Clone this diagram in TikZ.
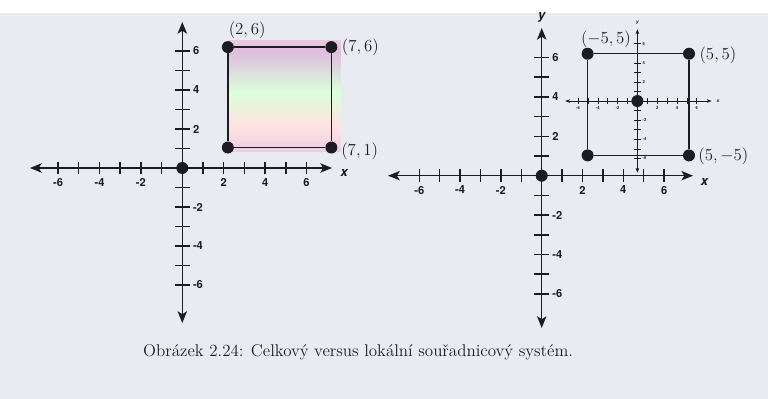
\documentclass[tikz,border=0pt]{standalone}
\usepackage{fontspec}
\usepackage{tikz}
\usetikzlibrary{arrows.meta}
\usetikzlibrary{positioning}
\newfontfamily\hvfont{TeX Gyre Heros}
\definecolor{ink}{RGB}{28,28,34}
\definecolor{paper}{RGB}{232,235,241}
\pgfdeclareverticalshading{duha}{100bp}{%
  color(0bp)=(green!16!white); color(18bp)=(violet!24!white);
  color(36bp)=(pink!45!white); color(52bp)=(green!14!white);
  color(70bp)=(violet!26!white); color(86bp)=(pink!40!white);
  color(100bp)=(green!14!white)}
\newcommand*{\osaX}[7]{%
  \coordinate (#1xl) at (#2,0);
  \coordinate (#1xr) at (#3,0);
  \coordinate (#1yb) at (0,#4);
  \coordinate (#1yt) at (0,#5);
  \draw [#6, <->] (#1xl) -- (#1xr);
  \draw [#6, <->] (#1yb) -- (#1yt);
  \foreach \i in {-6,...,-1,1,2,...,6} {
    \draw [#6] (\i,-0.33) -- (\i,0.33);
    \draw [#6] (-0.36,\i) -- (0.36,\i);
  }
  \foreach \i in {-6,-4,-2,2,4,6} {
    \node [#7, anchor=north] (#1x\i) at (\i,-0.45) {\i};
    \node [#7, anchor=west] (#1y\i) at (0.45,\i) {\i};
  }
}

\begin{document}
\begin{tikzpicture}[x=0.03cm, y=0.03cm,
    axis/.style={line width=1.2pt, draw=ink,
      >={Stealth[length=10pt, width=8pt, inset=2.5pt]}},
    laxis/.style={line width=0.5pt, draw=ink,
      >={Stealth[length=4pt, width=3pt, inset=1pt]}},
    tick/.style={font=\hvfont\bfseries\fontsize{9.5}{10}\selectfont, text=ink, inner sep=1pt},
    ltick/.style={font=\hvfont\bfseries\fontsize{3.5}{4}\selectfont, text=ink, inner sep=0.5pt},
    axlbl/.style={font=\hvfont\bfseries\itshape\fontsize{11}{12}\selectfont, text=ink},
    laxlbl/.style={font=\hvfont\bfseries\itshape\fontsize{4}{5}\selectfont, text=ink},
    dot/.style={circle, fill=ink, inner sep=0pt, minimum size=0.36cm},
    side/.style={line width=1.2pt, draw=ink},
    coord/.style={font=\fontsize{13.5}{16}\selectfont, text=ink, inner sep=1pt},
    popis/.style={font=\fontsize{14.5}{17}\selectfont, text=ink, inner sep=0pt}]

\fill [paper] (0,0) rectangle (768,399);
\fill [white] (0,386) rectangle (768,399);
\useasboundingbox (0,0) rectangle (768,399);

% celkovy system
\begin{scope}[shift={(182.3,231)}, x=0.621cm, y=0.585cm]
  \coordinate (Lf1) at (2.2,0.84);
  \coordinate (Lf2) at (7.65,6.53);
  \shade [shading=duha] (Lf1) rectangle (Lf2);
  \osaX{L}{-7.36}{7.23}{-7.95}{7.49}{axis}{tick}
  \node [axlbl, anchor=west] (Lx) at (7.45,-0.25) {x};
  \node [dot] (Lo) at (0,0) {};
  \node [dot] (Lc26) at (2.2,6.2) {};
  \node [dot] (Lc76) at (7.2,6.2) {};
  \node [dot] (Lc71) at (7.2,1.05) {};
  \node [dot] (Lc21) at (2.2,1.05) {};
  \draw [side] (Lc26) -- (Lc76) -- (Lc71) -- (Lc21) -- (Lc26);
  \node [coord, above=0.5pt of Lc26, xshift=0.58cm] (Llbl26) {$(2,6)$};
  \node [coord, right=2.5pt of Lc76] (Llbl76) {$(7,6)$};
  \node [coord, right=2pt of Lc71, yshift=-3pt] (Llbl71) {$(7,1)$};
\end{scope}

% lokalni system ve ctverci
\begin{scope}[shift={(541.7,223.3)}, x=0.612cm, y=0.591cm]
  \osaX{R}{-7.53}{7.42}{-7.73}{7.5}{axis}{tick}
  \node [axlbl, anchor=west] (Rx) at (7.6,-0.3) {x};
  \node [axlbl, anchor=south] (Ry) at (0,7.6) {y};
  \node [dot] (Ro) at (0,0) {};
  \node [dot] (Rtl) at (2.25,6.19) {};
  \node [dot] (Rtr) at (7.22,6.19) {};
  \node [dot] (Rbr) at (7.22,1.03) {};
  \node [dot] (Rbl) at (2.25,1.03) {};
  \draw [side] (Rtl) -- (Rtr) -- (Rbr) -- (Rbl) -- (Rtl);
  \begin{scope}[shift={(4.69,3.79)}, scale=0.485]
    \osaX{M}{-7.3}{7.5}{-7.5}{7.5}{laxis}{ltick}
    \node [laxlbl, anchor=west] (Mx) at (7.6,0) {x};
    \node [laxlbl, anchor=south] (My) at (0,7.6) {y};
    \node [dot] (Mo) at (0,0) {};
  \end{scope}
  \node [coord, above=-1pt of Rtl, xshift=0.55cm] (Rlbltl) {$(-5,5)$};
  \node [coord, right=2.5pt of Rtr, yshift=-1pt] (Rlbltr) {$(5,5)$};
  \node [coord, right=1.5pt of Rbr, yshift=-1pt] (Rlblbr) {$(5,-5)$};
\end{scope}
%
\node [popis, anchor=west] (cap) at (143,46.7) {Obrázek 2.24: Celkový versus lokální souřadnicový systém.};
\end{tikzpicture}
\end{document}
